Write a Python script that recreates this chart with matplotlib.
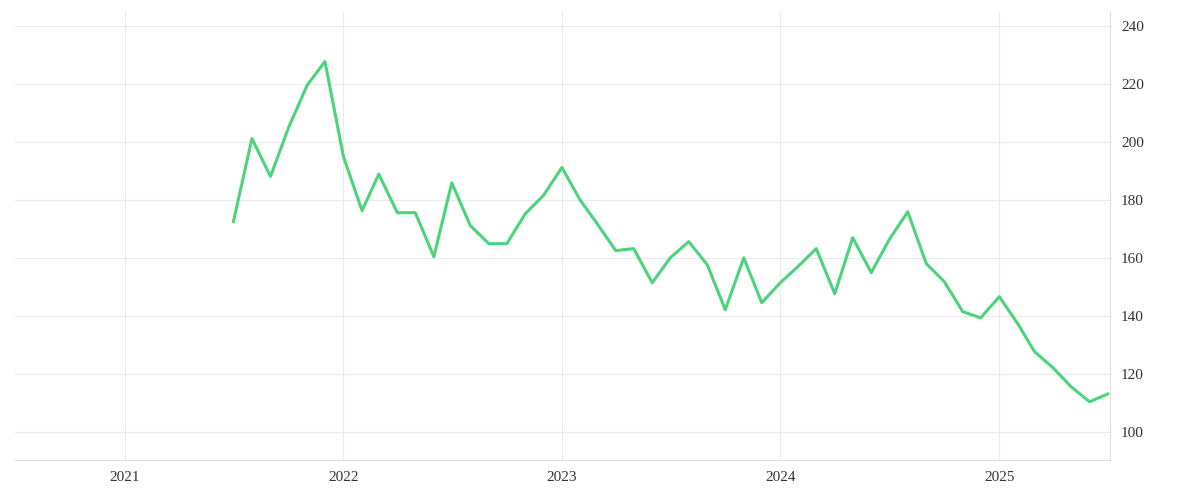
import pandas as pd
import matplotlib
matplotlib.use("Agg")
import matplotlib.pyplot as plt
import matplotlib.dates as mdates

# monthly values, Jul 2021 .. Jul 2025
months = pd.date_range("2021-07-01", periods=49, freq="MS")
values = [172.6, 201.3, 188.2, 205.0, 219.6, 227.9, 195.0, 176.4, 189.0, 175.7,
          175.7, 160.5, 186.0, 171.2, 165.0, 165.0, 175.4, 181.6, 191.3, 179.9,
          171.9, 162.6, 163.3, 151.5, 160.1, 165.7, 157.7, 142.2, 160.1, 144.6,
          151.5, 157.4, 163.3, 147.7, 167.1, 155.0, 166.4, 176.0, 158.1, 151.9,
          141.5, 139.4, 146.7, 137.3, 127.7, 122.1, 115.6, 110.4, 113.1]
yticks = [100, 120, 140, 160, 180, 200, 220, 240]
year_ticks = pd.to_datetime(["2021-01-01", "2022-01-01", "2023-01-01", "2024-01-01", "2025-01-01"])

plt.rcParams['font.family'] = ['Liberation Serif', 'DejaVu Serif']
fig, ax = plt.subplots(figsize=(12, 5), dpi=100)
fig.subplots_adjust(left=0.0125, right=0.925, top=0.976, bottom=0.08)

ax.plot(months, values, color="#4cd47a", lw=2.2)

ax.set_xlim(pd.Timestamp("2020-07-01"), pd.Timestamp("2025-07-05"))
ax.set_ylim(90.3, 245)
ax.set_xticks(year_ticks)
ax.xaxis.set_major_formatter(mdates.DateFormatter("%Y"))
ax.set_yticks(yticks)
ax.yaxis.tick_right()
ax.tick_params(length=0, labelsize=11, colors="#333333", pad=8)
ax.grid(True, color="#ebebeb", lw=0.8)
for s in ax.spines.values():
    s.set_visible(False)
ax.spines['right'].set_visible(True)
ax.spines['right'].set_color("#dddddd")
ax.spines['bottom'].set_visible(True)
ax.spines['bottom'].set_color("#dddddd")

fig.savefig("out.png")
